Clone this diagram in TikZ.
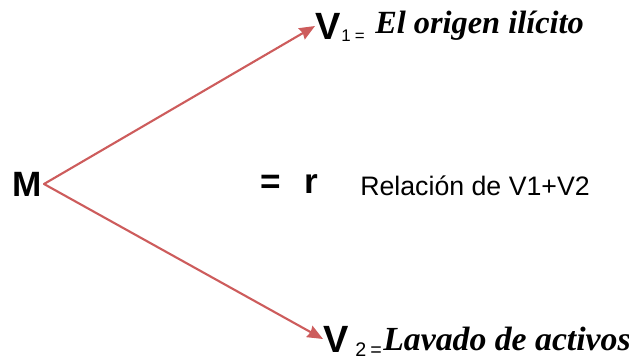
\documentclass[tikz,border=0pt]{standalone}
\usepackage{fontspec}
\setmainfont{Liberation Sans}
\newfontfamily\handfont{Liberation Serif}
\usetikzlibrary{arrows.meta}
\definecolor{arrowred}{RGB}{205,92,92}
\tikzset{
  bigletter/.style={font=\fontsize{25}{25}\selectfont\bfseries, inner sep=0pt},
  sublabel/.style={font=\fontsize{12}{12}\selectfont, inner sep=0pt},
  fancy/.style={font=\fontsize{23}{23}\selectfont\handfont\bfseries\itshape, inner sep=0pt},
  plain/.style={font=\fontsize{19}{19}\selectfont, inner sep=0pt},
  link/.style={draw=arrowred, line width=1.5pt, -{Stealth[length=11pt,width=9pt,inset=1pt]}}
}
\begin{document}
\begin{tikzpicture}[x=0.025cm, y=-0.025cm, line join=round, line cap=round]
  \useasboundingbox (0,0) rectangle (629,363);
  % left and middle
  \node[bigletter, anchor=west] (m) at (12,184) {M};
  \node[bigletter, anchor=west] (eq) at (260,184) {=};
  \node[bigletter, anchor=west] (r) at (304,184) {r};
  \node[plain, anchor=west] (rel) at (360,186) {Relación de V1+V2};
  % upper branch
  \node[bigletter, anchor=west, font=\fontsize{27}{27}\selectfont\bfseries] (v1) at (315,26) {V};
  \node[sublabel, anchor=south west] (s1) at (341,42) {1\hspace{3pt}=};
  \node[fancy, anchor=west] (t1) at (375,26) {El origen ilícito};
  % lower branch
  \node[bigletter, anchor=west, font=\fontsize{27}{27}\selectfont\bfseries] (v2) at (323,339) {V};
  \node[sublabel, anchor=south west, font=\fontsize{14}{14}\selectfont] (s2) at (355,357) {2\hspace{3pt}=};
  \node[fancy, anchor=west, font=\fontsize{24}{24}\selectfont\handfont\bfseries\itshape] (t2) at (383,339) {Lavado de activos};
  % arrows
  \coordinate (o) at (44,184);
  \draw[link] (o) -- (v1.west);
  \draw[link] (o) -- (v2.west);
\end{tikzpicture}
\end{document}
